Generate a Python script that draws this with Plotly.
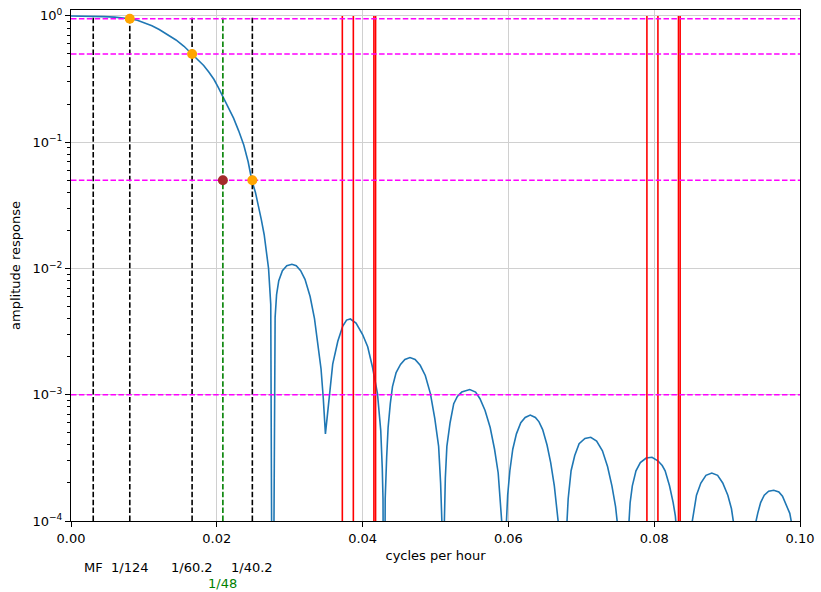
import plotly.graph_objects as go

# Filter amplitude response: (cycles per hour, amplitude)
freq = [
    # main lobe
    0.0, 0.0015, 0.0030, 0.0045, 0.0060, 0.0070, 0.00804, 0.0091, 0.0101, 0.0111,
    0.0121, 0.0132, 0.0144, 0.0155, 0.0166, 0.0174, 0.0182, 0.0189, 0.0196, 0.0202,
    0.0208, 0.0216, 0.0223, 0.0230, 0.0237, 0.0243, 0.0248, 0.0253, 0.0257, 0.0261,
    0.0265, 0.0268, 0.0271, 0.0274, 0.02765,
    # first side lobe and shallow dip
    0.0280, 0.0282, 0.0285, 0.0290, 0.0296, 0.0303, 0.0309, 0.0315, 0.0321, 0.0328,
    0.0334, 0.0339, 0.0343, 0.0346, 0.0349, 0.03515, 0.03547, 0.0359, 0.0366, 0.03728,
    0.0378, 0.03832, 0.0391, 0.0400, 0.0407, 0.04136, 0.04204, 0.04249, 0.0427, 0.0428,
    0.04295,
    # next lobes
    0.0431, 0.0433, 0.0435, 0.0438, 0.0441, 0.0446, 0.0452, 0.0458, 0.0465, 0.0472,
    0.0479, 0.0486, 0.0493, 0.0499, 0.05043, 0.0507, 0.0509, 0.05105,
    0.0512, 0.05135, 0.05156, 0.0520, 0.0525, 0.0530, 0.0536, 0.0547, 0.0555, 0.0561,
    0.0568, 0.0575, 0.0581, 0.0586, 0.0590, 0.0592, 0.05945,
    0.0597, 0.0599, 0.0602, 0.0606, 0.0611, 0.0617, 0.0623, 0.0630, 0.0637, 0.0642,
    0.0647, 0.0653, 0.0658, 0.0663, 0.0667, 0.0670, 0.0675,
    0.0680, 0.0682, 0.0686, 0.0691, 0.0697, 0.0705, 0.0713, 0.0721, 0.0729, 0.0736,
    0.0742, 0.0747, 0.0751, 0.0758,
    0.0765, 0.0767, 0.0770, 0.0775, 0.0781, 0.0789, 0.0797, 0.0805, 0.0811, 0.0815,
    0.0821, 0.0826, 0.0829, 0.0831, 0.0841,
    0.0851, 0.0854, 0.0858, 0.0864, 0.0871, 0.0879, 0.0887, 0.0894, 0.0901, 0.0906,
    0.0911, 0.0925,
    0.0938, 0.0942, 0.0946, 0.0951, 0.0957, 0.0964, 0.0971, 0.0976, 0.0980, 0.0986,
    0.0991, 0.1000,
]
amp = [
    1.0, 0.999, 0.995, 0.988, 0.978, 0.968, 0.95, 0.925, 0.885, 0.835,
    0.78, 0.715, 0.645, 0.575, 0.5, 0.452, 0.405, 0.36, 0.315, 0.272,
    0.232, 0.19, 0.155, 0.123, 0.095, 0.07, 0.05, 0.04, 0.032, 0.0245,
    0.0185, 0.0140, 0.0100, 0.0052, 1e-6,
    0.0041, 0.0062, 0.0080, 0.0096, 0.0105, 0.0108, 0.0105, 0.0096, 0.0082, 0.0060,
    0.0040, 0.0025, 0.00160, 0.00095, 0.00049, 0.00067, 0.00102, 0.00175, 0.00265, 0.0035,
    0.0039, 0.00398, 0.0037, 0.0030, 0.0024, 0.00165, 0.00102, 0.00052, 0.00026, 0.00015,
    1e-6,
    0.00015, 0.00032, 0.00055, 0.00085, 0.00116, 0.0015, 0.00174, 0.0019, 0.00197, 0.0019,
    0.00171, 0.00142, 0.00102, 0.00065, 0.00039, 0.0002, 9e-5, 1e-6,
    9e-5, 0.00022, 0.00039, 0.0006, 0.00085, 0.00097, 0.00105, 0.0011, 0.00105, 0.00093,
    0.00075, 0.00055, 0.00037, 0.00024, 0.00013, 8e-5, 1e-6,
    9e-5, 0.00016, 0.00025, 0.00037, 0.00049, 0.0006, 0.00066, 0.00069, 0.00066, 0.00061,
    0.00053, 0.0004, 0.00029, 0.00019, 0.00012, 8e-5, 1e-6,
    9e-5, 0.00015, 0.00025, 0.00033, 0.00041, 0.00045, 0.00046, 0.00043, 0.00036, 0.00027,
    0.00019, 0.00013, 8e-5, 1e-6,
    9e-5, 0.00014, 0.00019, 0.00025, 0.00029, 0.000315, 0.00032, 0.0003, 0.000275, 0.00025,
    0.00019, 0.00014, 0.00011, 8e-5, 1e-6,
    9e-5, 0.00012, 0.00016, 0.0002, 0.00023, 0.00024, 0.00023, 0.0002, 0.00016, 0.000125,
    8e-5, 1e-6,
    9e-5, 0.000115, 0.00014, 0.00016, 0.000172, 0.000175, 0.00017, 0.000157, 0.00014, 0.000115,
    8e-5, 3e-5,
]

# Reference levels
h_levels = [0.95, 0.5, 0.05, 0.001]
# Black dashed reference frequencies (MF, 1/124, 1/60.2, 1/40.2)
black_freqs = [0.00305, 1 / 124, 1 / 60.2, 1 / 40.2]
black_labels = ["MF", "1/124", "1/60.2", "1/40.2"]
green_freq = 1 / 48
green_label = "1/48"
# Tidal constituents (red)
red_freqs = [0.03722, 0.03873, 0.04155, 0.04178, 0.07900, 0.08051, 0.08333, 0.08356]
# Marker points
orange_x = [1 / 124, 1 / 60.2, 1 / 40.2]
orange_y = [0.95, 0.5, 0.05]
brown_x = [1 / 48]
brown_y = [0.05]

YMIN, YTOP = 1e-4, 1.0
DASH = "5.5px,2.4px"

fig = go.Figure()
fig.add_trace(go.Scatter(x=freq, y=amp, mode="lines",
                         line=dict(color="#1f77b4", width=1.6), hoverinfo="skip"))

for f in red_freqs:
    fig.add_trace(go.Scatter(x=[f, f], y=[YMIN, YTOP], mode="lines",
                             line=dict(color="#ff0000", width=1.6), hoverinfo="skip"))
for f in black_freqs:
    fig.add_trace(go.Scatter(x=[f, f], y=[YMIN, YTOP], mode="lines",
                             line=dict(color="black", width=1.6, dash=DASH),
                             hoverinfo="skip"))
fig.add_trace(go.Scatter(x=[green_freq, green_freq], y=[YMIN, YTOP], mode="lines",
                         line=dict(color="#008000", width=1.6, dash=DASH),
                         hoverinfo="skip"))
for h in h_levels:
    fig.add_trace(go.Scatter(x=[0, 0.1], y=[h, h], mode="lines",
                             line=dict(color="#ff00ff", width=1.6, dash=DASH),
                             hoverinfo="skip"))

fig.add_trace(go.Scatter(x=orange_x, y=orange_y, mode="markers",
                         marker=dict(color="#ffa500", size=10), hoverinfo="skip"))
fig.add_trace(go.Scatter(x=brown_x, y=brown_y, mode="markers",
                         marker=dict(color="#a52a2a", size=10), hoverinfo="skip"))

for f, t in zip(black_freqs, black_labels):
    fig.add_annotation(x=f, y=-0.0914, xref="x", yref="paper", text=t, showarrow=False,
                       font=dict(color="black", size=13), xanchor="center", yanchor="middle")
fig.add_annotation(x=green_freq, y=-0.1226, xref="x", yref="paper", text=green_label,
                   showarrow=False, font=dict(color="#008000", size=13),
                   xanchor="center", yanchor="middle")

ytv = [1e-4, 1e-3, 1e-2, 1e-1, 1e0]
ytt = ["10<sup>\u22124</sup>", "10<sup>\u22123</sup>", "10<sup>\u22122</sup>",
       "10<sup>\u22121</sup>", "10<sup>0</sup>"]
minor_vals = [m * 10.0 ** e for e in range(-4, 0) for m in range(2, 10)]

fig.update_layout(
    width=821, height=592,
    margin=dict(l=71, r=16, t=7, b=71),
    plot_bgcolor="white", paper_bgcolor="white",
    showlegend=False,
    font=dict(family="DejaVu Sans", size=13, color="black"),
    xaxis=dict(range=[0, 0.1], tickvals=[0, 0.02, 0.04, 0.06, 0.08, 0.1],
               ticktext=["0.00", "0.02", "0.04", "0.06", "0.08", "0.10"],
               showgrid=True, gridcolor="#d0d0d0", gridwidth=1,
               showline=True, linecolor="black", linewidth=1, mirror=True,
               ticks="outside", ticklen=5, tickcolor="black", zeroline=False,
               title=dict(text="cycles per hour", standoff=6, font=dict(size=13))),
    yaxis=dict(type="log", range=[-4, 0.047], tickvals=ytv, ticktext=ytt,
               showgrid=True, gridcolor="#d0d0d0", gridwidth=1,
               showline=True, linecolor="black", linewidth=1, mirror=True,
               ticks="outside", ticklen=5, tickcolor="black", zeroline=False,
               minor=dict(tickvals=minor_vals, ticks="outside", ticklen=3,
                          tickcolor="black", showgrid=False),
               title=dict(text="amplitude response", standoff=8, font=dict(size=13))),
)

fig.write_html("out.html")
